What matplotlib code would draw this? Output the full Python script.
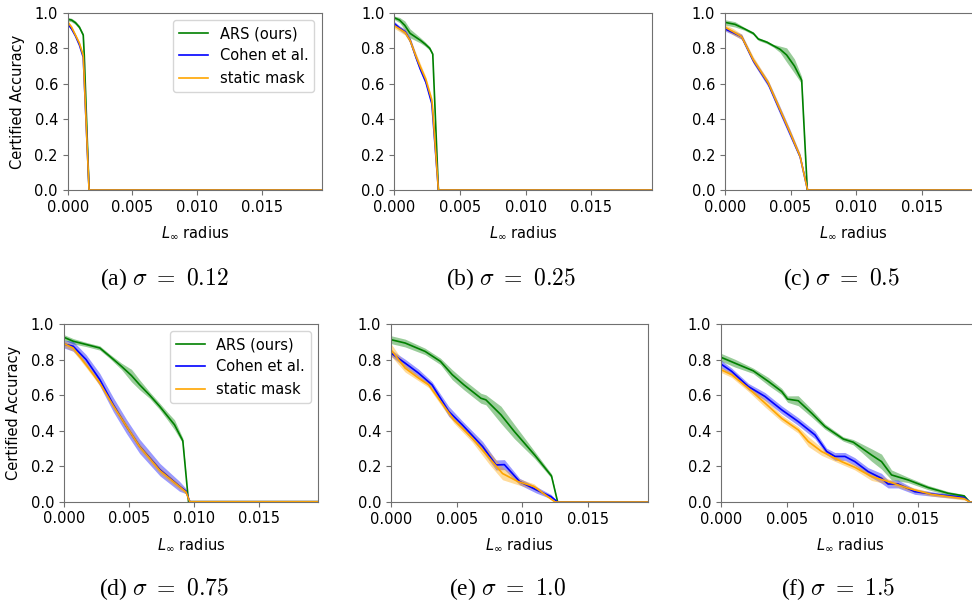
import matplotlib
matplotlib.use("Agg")
import matplotlib.pyplot as plt

# certified accuracy vs L_inf radius, one panel per noise level
sigmas = ["0.12", "0.25", "0.5", "0.75", "1.0", "1.5"]
tags = ["a", "b", "c", "d", "e", "f"]
methods = ["ARS (ours)", "Cohen et al.", "static mask"]
colors = ["green", "blue", "orange"]
R_MAX = 5 / 255

# each curve: (radius, mean accuracy, band half-width)
ars_a = ([0, 0.0003, 0.0006, 0.0009, 0.0012, 0.00128, 0.00165, R_MAX],
         [0.965, 0.96, 0.945, 0.92, 0.875, 0.76, 0.0, 0.0],
         [0.01, 0.01, 0.01, 0.01, 0.01, 0.008, 0, 0])
cohen_a = ([0, 0.0003, 0.0006, 0.0009, 0.0012, 0.00165, R_MAX],
           [0.94, 0.91, 0.87, 0.82, 0.75, 0.0, 0.0],
           [0.008, 0.008, 0.008, 0.008, 0.008, 0, 0])
static_a = ([0, 0.0003, 0.0006, 0.0009, 0.0012, 0.00165, R_MAX],
            [0.95, 0.92, 0.875, 0.83, 0.76, 0.0, 0.0],
            [0.008, 0.008, 0.008, 0.008, 0.008, 0, 0])

ars_b = ([0, 0.0004, 0.0008, 0.0012, 0.0016, 0.002, 0.00234, 0.0027, 0.00293, 0.00336, R_MAX],
         [0.973, 0.96, 0.93, 0.885, 0.865, 0.845, 0.825, 0.8, 0.767, 0.0, 0.0],
         [0.01, 0.015, 0.025, 0.025, 0.02, 0.015, 0.012, 0.01, 0.008, 0, 0])
cohen_b = ([0, 0.0004, 0.00082, 0.0012, 0.0016, 0.00196, 0.0024, 0.00285, 0.0029, 0.00336, R_MAX],
           [0.94, 0.915, 0.894, 0.847, 0.76, 0.687, 0.61, 0.49, 0.45, 0.0, 0.0],
           [0.012, 0.012, 0.015, 0.015, 0.018, 0.018, 0.015, 0.015, 0.012, 0, 0])
static_b = ([0, 0.0004, 0.00082, 0.0012, 0.0016, 0.00196, 0.0024, 0.00285, 0.0029, 0.00336, R_MAX],
            [0.928, 0.91, 0.89, 0.845, 0.765, 0.7, 0.625, 0.51, 0.48, 0.0, 0.0],
            [0.015, 0.015, 0.015, 0.015, 0.018, 0.018, 0.015, 0.015, 0.012, 0, 0])

ars_c = ([0, 0.00076, 0.0015, 0.00216, 0.00254, 0.0032, 0.00369, 0.0042, 0.0047, 0.0053, 0.00585, 0.00628, R_MAX],
         [0.947, 0.936, 0.91, 0.885, 0.853, 0.835, 0.815, 0.795, 0.763, 0.7, 0.62, 0.0, 0.0],
         [0.015, 0.015, 0.008, 0.008, 0.008, 0.008, 0.008, 0.018, 0.04, 0.04, 0.02, 0, 0])
cohen_c = ([0, 0.0006, 0.00127, 0.00216, 0.0033, 0.00407, 0.00496, 0.00573, 0.0063, R_MAX],
           [0.91, 0.89, 0.866, 0.73, 0.6, 0.47, 0.32, 0.188, 0.0, 0.0],
           [0.012, 0.012, 0.015, 0.015, 0.018, 0.022, 0.022, 0.015, 0, 0])
static_c = ([0, 0.0006, 0.00127, 0.00216, 0.0033, 0.00407, 0.00496, 0.00573, 0.0063, R_MAX],
            [0.92, 0.895, 0.866, 0.735, 0.605, 0.475, 0.325, 0.19, 0.0, 0.0],
            [0.015, 0.018, 0.015, 0.018, 0.015, 0.015, 0.015, 0.015, 0, 0])

ars_d = ([0, 0.00071, 0.0017, 0.00276, 0.0035, 0.00443, 0.0052, 0.00583, 0.0066, 0.00737, 0.008, 0.00852, 0.00916, 0.0096, R_MAX],
         [0.925, 0.903, 0.885, 0.865, 0.82, 0.762, 0.71, 0.658, 0.6, 0.537, 0.48, 0.433, 0.343, 0.0, 0.0],
         [0.015, 0.015, 0.012, 0.012, 0.012, 0.018, 0.035, 0.028, 0.018, 0.018, 0.022, 0.028, 0.015, 0, 0])
cohen_d = ([0, 0.0007, 0.0017, 0.00276, 0.0038, 0.00481, 0.00583, 0.0074, 0.0089, 0.0094, 0.0097, R_MAX],
           [0.887, 0.875, 0.8, 0.687, 0.546, 0.424, 0.312, 0.18, 0.087, 0.06, 0.0, 0.0],
           [0.022, 0.028, 0.028, 0.035, 0.04, 0.04, 0.04, 0.035, 0.028, 0.015, 0, 0])
static_d = ([0, 0.0007, 0.0017, 0.00276, 0.0038, 0.00481, 0.00583, 0.0074, 0.0089, 0.0094, 0.0097, R_MAX],
            [0.89, 0.865, 0.77, 0.668, 0.54, 0.425, 0.31, 0.175, 0.085, 0.055, 0.0, 0.0],
            [0.018, 0.018, 0.015, 0.015, 0.018, 0.018, 0.018, 0.018, 0.015, 0.012, 0, 0])

ars_e = ([0, 0.00108, 0.0026, 0.00377, 0.00467, 0.00556, 0.00685, 0.00723, 0.00838, 0.0094, 0.01095, 0.01223, 0.0127, R_MAX],
         [0.912, 0.893, 0.846, 0.79, 0.715, 0.658, 0.583, 0.574, 0.49, 0.396, 0.264, 0.146, 0.0, 0.0],
         [0.022, 0.022, 0.018, 0.018, 0.028, 0.028, 0.028, 0.028, 0.048, 0.04, 0.02, 0.012, 0, 0])
cohen_e = ([0, 0.00108, 0.0021, 0.00313, 0.0044, 0.00544, 0.00698, 0.008, 0.00864, 0.0098, 0.01108, 0.0122, 0.0127, R_MAX],
           [0.837, 0.78, 0.724, 0.658, 0.509, 0.433, 0.312, 0.208, 0.21, 0.115, 0.068, 0.03, 0.0, 0.0],
           [0.018, 0.022, 0.022, 0.018, 0.028, 0.022, 0.028, 0.028, 0.028, 0.018, 0.018, 0.012, 0, 0])
static_e = ([0, 0.00108, 0.0021, 0.00287, 0.00415, 0.0048, 0.0062, 0.0075, 0.0085, 0.00967, 0.0109, 0.0125, R_MAX],
            [0.855, 0.752, 0.696, 0.658, 0.527, 0.461, 0.358, 0.246, 0.16, 0.115, 0.087, 0.0, 0.0],
            [0.035, 0.022, 0.015, 0.015, 0.018, 0.018, 0.022, 0.035, 0.035, 0.018, 0.015, 0, 0])

ars_f = ([0, 0.00106, 0.00245, 0.00359, 0.00461, 0.00506, 0.00587, 0.00689, 0.0079, 0.00929, 0.01005, 0.01144, 0.0122, 0.01296,
          0.01422, 0.01574, 0.01726, 0.01848, 0.0189, R_MAX],
         [0.813, 0.78, 0.737, 0.678, 0.621, 0.578, 0.569, 0.499, 0.424, 0.354, 0.336, 0.264, 0.227, 0.152,
          0.124, 0.081, 0.049, 0.034, 0.0, 0.0],
         [0.022, 0.022, 0.015, 0.022, 0.018, 0.018, 0.028, 0.022, 0.015, 0.012, 0.015, 0.035, 0.042, 0.028,
          0.015, 0.012, 0.01, 0.008, 0, 0])
cohen_f = ([0, 0.00081, 0.00207, 0.00334, 0.00461, 0.00587, 0.00714, 0.00803, 0.00866, 0.00942, 0.01017, 0.01118, 0.0122, 0.0127,
            0.01346, 0.01473, 0.01625, 0.01848, 0.0189, R_MAX],
           [0.775, 0.734, 0.649, 0.593, 0.518, 0.452, 0.377, 0.284, 0.256, 0.256, 0.227, 0.171, 0.133, 0.101,
            0.101, 0.058, 0.043, 0.025, 0.0, 0.0],
           [0.022, 0.018, 0.018, 0.022, 0.022, 0.022, 0.022, 0.018, 0.022, 0.022, 0.022, 0.022, 0.028, 0.022,
            0.022, 0.015, 0.012, 0.01, 0, 0])
static_f = ([0, 0.00081, 0.00207, 0.00334, 0.00461, 0.00587, 0.00663, 0.00764, 0.00916, 0.01017, 0.01144, 0.0127, 0.01422, 0.016,
             0.01848, 0.0189, R_MAX],
            [0.743, 0.715, 0.64, 0.556, 0.47, 0.405, 0.34, 0.284, 0.227, 0.195, 0.143, 0.115, 0.077, 0.043,
             0.019, 0.0, 0.0],
            [0.015, 0.015, 0.018, 0.022, 0.018, 0.018, 0.028, 0.022, 0.015, 0.015, 0.022, 0.015, 0.012, 0.01,
             0.008, 0, 0])

panels = [
    (ars_a, cohen_a, static_a),
    (ars_b, cohen_b, static_b),
    (ars_c, cohen_c, static_c),
    (ars_d, cohen_d, static_d),
    (ars_e, cohen_e, static_e),
    (ars_f, cohen_f, static_f),
]

W, H = 972, 601
# axes boxes in pixels: left, top, width, height
boxes = [
    (67.7, 13, 254, 177), (394.3, 13, 257.4, 177), (725, 13, 257, 177),
    (64, 324, 254.3, 177.7), (391, 324, 257.3, 178), (721, 324, 258, 178),
]
caption_xy = [(164, 279), (511, 279), (841, 279), (164, 589), (508, 589), (838, 589)]

plt.rcParams["font.family"] = "DejaVu Sans"
plt.rcParams["font.size"] = 10.5

fig = plt.figure(figsize=(W / 100, H / 100), dpi=100)

for i, curves in enumerate(panels):
    l, t, w, h = boxes[i]
    ax = fig.add_axes([l / W, 1 - (t + h) / H, w / W, h / H])
    for (r, acc, sd), c, name in zip(curves, colors, methods):
        lo = [a - s for a, s in zip(acc, sd)]
        hi = [a + s for a, s in zip(acc, sd)]
        ax.fill_between(r, lo, hi, color=c, alpha=0.4, linewidth=0)
        ax.plot(r, acc, color=c, linewidth=1.2, label=name)
    ax.set_xlim(0, R_MAX)
    ax.set_ylim(0, 1)
    ax.set_xticks([0, 0.005, 0.010, 0.015])
    ax.set_xticklabels(["0.000", "0.005", "0.010", "0.015"])
    ax.set_yticks([0, 0.2, 0.4, 0.6, 0.8, 1.0])
    ax.set_yticklabels(["0.0", "0.2", "0.4", "0.6", "0.8", "1.0"])
    for s in ax.spines.values():
        s.set_color("#707070")
    ax.tick_params(color="#707070", labelsize=10.5)
    ax.set_xlabel(r"$L_\infty$ radius", labelpad=7)
    if i in (0, 3):
        ax.set_ylabel("Certified Accuracy", labelpad=7)
        ax.legend(loc="upper right", fontsize=10.5)
    cx, cy = caption_xy[i]
    fig.text(cx / W, 1 - cy / H, rf"({tags[i]}) $\sigma\ =\ {sigmas[i]}$",
             ha="center", va="center", fontsize=17, family="Liberation Serif",
             math_fontfamily="cm")

fig.savefig("out.png", dpi=100)
